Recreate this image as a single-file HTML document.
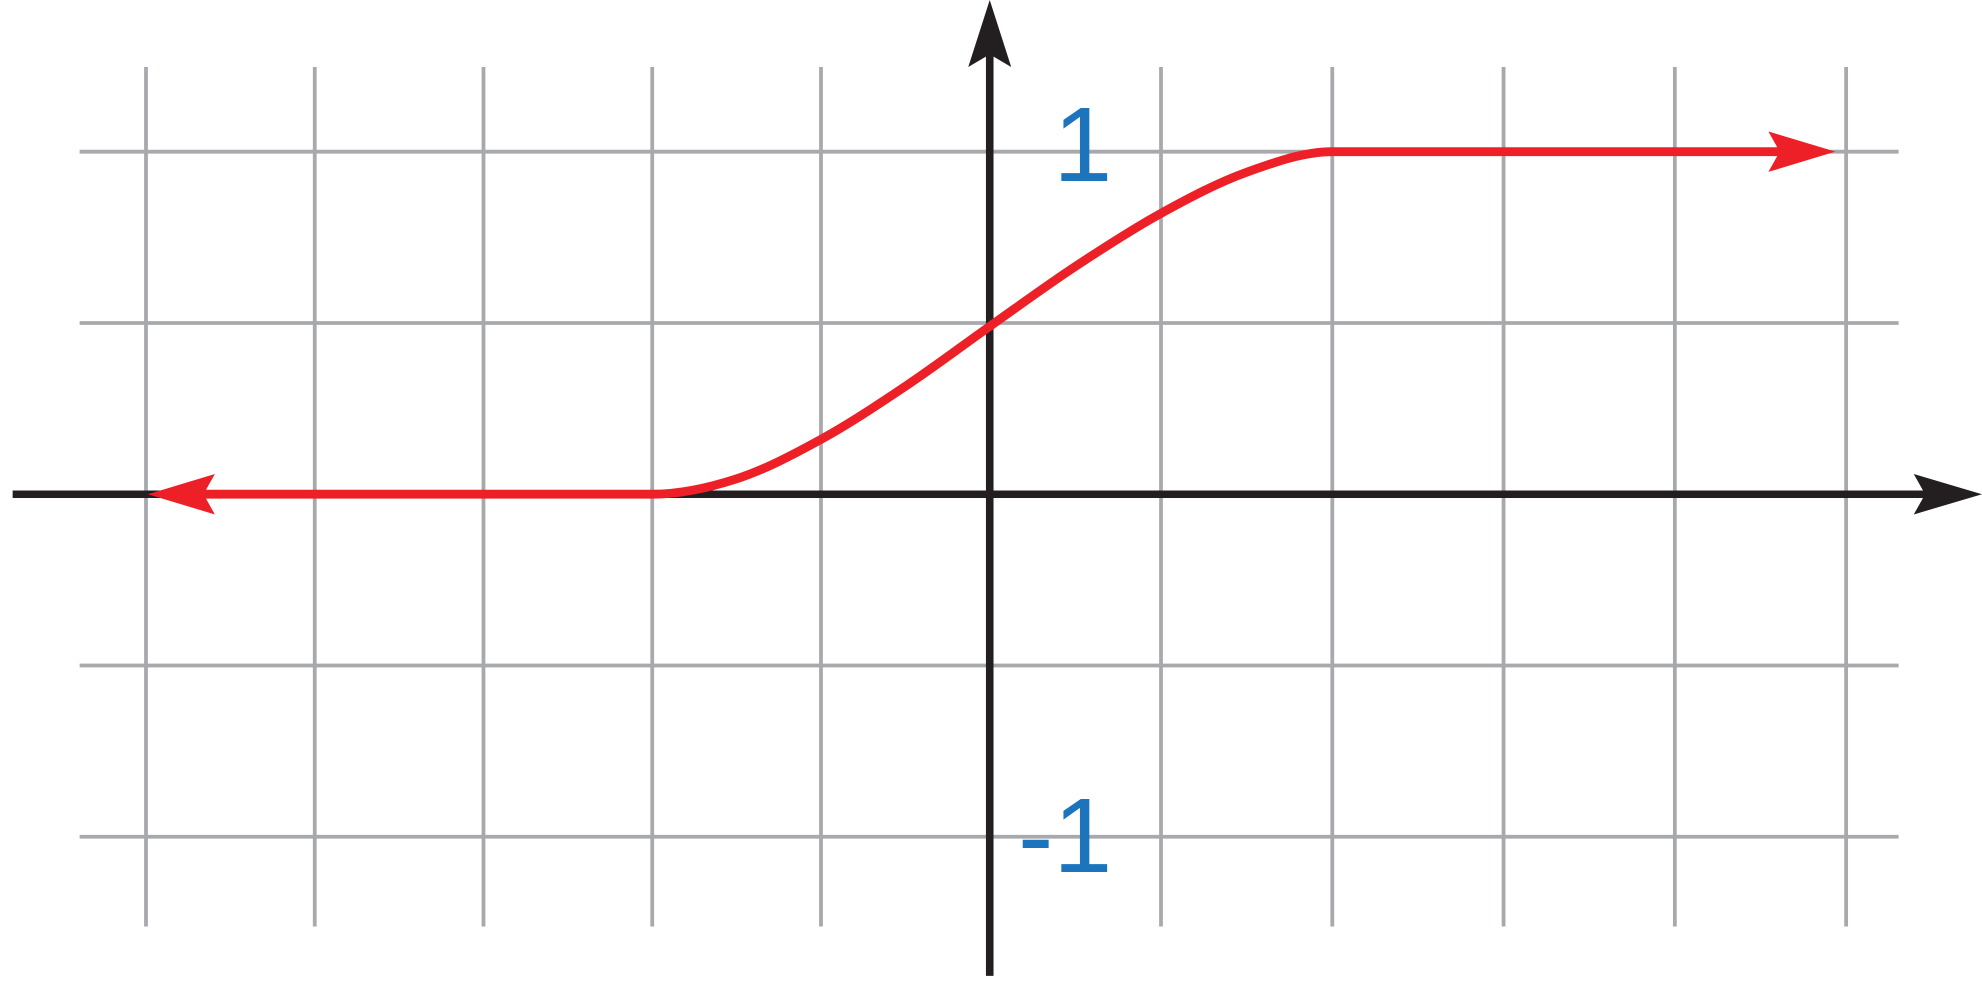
<!DOCTYPE html>
<html><head><meta charset="utf-8"><style>
html,body{margin:0;padding:0;background:#fff}
svg{display:block}
</style></head><body>
<svg id="chart" width="1982" height="991" viewBox="0 0 1568 784" xmlns="http://www.w3.org/2000/svg">
<g id="grid"></g>
<g id="axes">
<line x1="10" y1="391" x2="1530" y2="391" stroke="#231f20" stroke-width="6"/>
<polygon points="1568,391 1514,375 1523,391 1514,407" fill="#231f20"/>
<line x1="783" y1="40" x2="783" y2="772" stroke="#231f20" stroke-width="6"/>
<polygon points="783,0 766,53 783,43 800,53" fill="#231f20"/>
</g>
<text x="880" y="143" text-anchor="end" font-family="Liberation Sans, sans-serif" font-size="84" fill="#1c75bc">1</text>
<text x="880" y="690" text-anchor="end" font-family="Liberation Sans, sans-serif" font-size="84" fill="#1c75bc">-1</text>
<g id="series"></g>
</svg>
<script>
const xTicks = [-5,-4,-3,-2,-1,0,1,2,3,4,5];
const yTicks = [-1,-0.5,0,0.5,1];
const curveX = [-2,-1.5,-1,-0.5,0,0.5,1,1.5,2];
const curveY = [0,0.045,0.16,0.315,0.49,0.665,0.82,0.94,1];
const NS='http://www.w3.org/2000/svg';
function xs(v){return v<=0 ? 783+v*133.5 : 783+v*135.5;}
function ys(v){return 391-v*271;}
const grid=document.getElementById('grid');
xTicks.forEach(t=>{ if(t===0)return;
  const l=document.createElementNS(NS,'line');
  
  
  l.setAttribute('x1',xs(t));l.setAttribute('x2',xs(t));l.setAttribute('y1',53);l.setAttribute('y2',733);
  l.setAttribute('stroke','#a7a9ac');l.setAttribute('stroke-width',3);grid.appendChild(l);});
yTicks.forEach(t=>{ if(t===0)return;
  const l=document.createElementNS(NS,'line');
  
  
  l.setAttribute('x1',63);l.setAttribute('x2',1502);l.setAttribute('y1',ys(t));l.setAttribute('y2',ys(t));
  l.setAttribute('stroke','#a7a9ac');l.setAttribute('stroke-width',3);grid.appendChild(l);});
// monotone cubic through points, zero slope at ends
const px=curveX.map(xs), py=curveY.map(ys), n=px.length;
const sl=[];for(let i=0;i<n-1;i++)sl.push((py[i+1]-py[i])/(px[i+1]-px[i]));
const m=new Array(n);m[0]=0;m[n-1]=0;
for(let i=1;i<n-1;i++){m[i]=(sl[i-1]*sl[i]<=0)?0:(sl[i-1]+sl[i])/2;}
const y0=py[0], y1=py[n-1];
let d='M150,'+y0+' L'+px[0]+','+py[0];
for(let i=0;i<n-1;i++){
  const h=(px[i+1]-px[i])/3;
  d+=' C'+(px[i]+h)+','+(py[i]+m[i]*h)+' '+(px[i+1]-h)+','+(py[i+1]-m[i+1]*h)+' '+px[i+1]+','+py[i+1];
}
d+=' L1420,'+y1;
const s=document.getElementById('series');
const path=document.createElementNS(NS,'path');


path.setAttribute('d',d);path.setAttribute('fill','none');path.setAttribute('stroke','#ed2027');path.setAttribute('stroke-width',7);
s.appendChild(path);
const la=document.createElementNS(NS,'polygon');


la.setAttribute('points',`117,${y0} 170,${y0-16} 161,${y0} 170,${y0+16}`);la.setAttribute('fill','#ed2027');s.appendChild(la);
const ra=document.createElementNS(NS,'polygon');


ra.setAttribute('points',`1452,${y1} 1399,${y1-16} 1408,${y1} 1399,${y1+16}`);ra.setAttribute('fill','#ed2027');s.appendChild(ra);
</script>
</body></html>
